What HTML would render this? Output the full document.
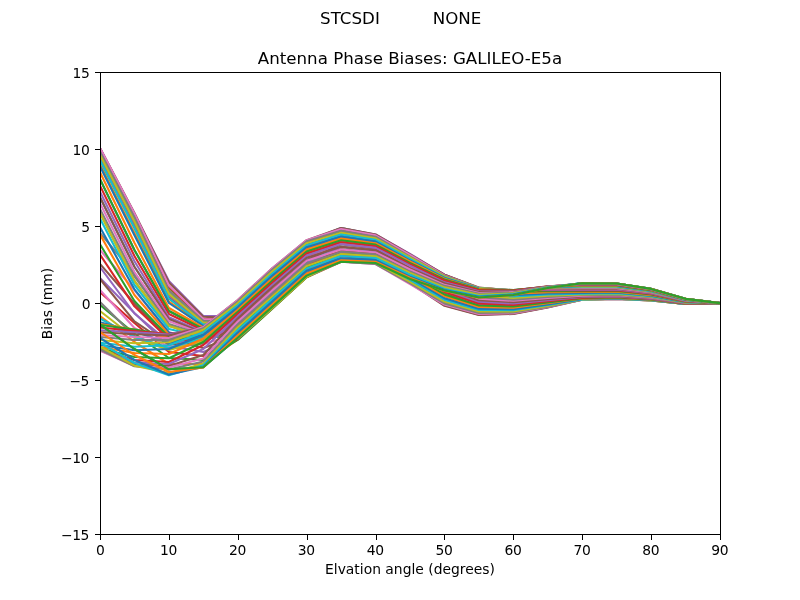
<!DOCTYPE html>
<html lang="en"><head><meta charset="utf-8"><title>Antenna Phase Biases: GALILEO-E5a</title>
<style>html,body{margin:0;padding:0;background:#fff;overflow:hidden}svg{display:block}text{font-family:"DejaVu Sans","Liberation Sans",sans-serif;fill:#000}.t10{font-size:13.889px}.t12{font-size:16.667px}.ln{fill:none;stroke-width:2.0833;stroke-linejoin:round;stroke-linecap:butt}</style></head><body>
<svg width="800" height="600" viewBox="0 0 800 600">
<rect x="0" y="0" width="800" height="600" fill="#ffffff"/>
<defs><clipPath id="ax"><rect x="100" y="72" width="620" height="462"/></clipPath></defs>
<g clip-path="url(#ax)">
<polyline class="ln" stroke="#1f77b4" points="100.00,324.70 134.44,349.00 168.89,369.30 203.33,367.30 237.78,337.67 272.22,306.86 306.67,275.61 341.11,261.73 375.56,262.96 410.00,278.98 444.44,290.53 478.89,297.46 513.33,294.99 547.78,287.91 582.22,283.22 616.67,283.52 651.11,288.89 685.56,298.87 720.00,303.15"/>
<polyline class="ln" stroke="#ff7f0e" points="100.00,316.00 134.44,342.00 168.89,364.00 203.33,364.00 237.78,339.52 272.22,308.64 306.67,277.19 341.11,261.73 375.56,262.99 410.00,278.03 444.44,290.12 478.89,297.36 513.33,294.91 547.78,287.82 582.22,283.33 616.67,283.63 651.11,288.97 685.56,298.90 720.00,303.15"/>
<polyline class="ln" stroke="#2ca02c" points="100.00,305.00 134.44,333.50 168.89,358.00 203.33,360.00 237.78,339.96 272.22,308.85 306.67,277.28 341.11,260.33 375.56,261.83 410.00,277.18 444.44,289.17 478.89,296.91 513.33,294.57 547.78,287.61 582.22,283.35 616.67,283.64 651.11,288.98 685.56,298.91 720.00,303.15"/>
<polyline class="ln" stroke="#d62728" points="100.00,292.00 134.44,323.00 168.89,352.00 203.33,356.00 237.78,338.98 272.22,307.50 306.67,275.88 341.11,258.46 375.56,260.28 410.00,275.57 444.44,288.21 478.89,296.47 513.33,294.27 547.78,287.44 582.22,283.42 616.67,283.71 651.11,289.04 685.56,298.93 720.00,303.15"/>
<polyline class="ln" stroke="#9467bd" points="100.00,278.00 134.44,313.00 168.89,346.00 203.33,352.00 237.78,337.53 272.22,305.62 306.67,273.99 341.11,256.02 375.56,258.25 410.00,273.90 444.44,287.77 478.89,296.42 513.33,294.28 547.78,287.50 582.22,283.51 616.67,283.79 651.11,289.09 685.56,298.96 720.00,303.15"/>
<polyline class="ln" stroke="#8c564b" points="100.00,264.00 134.44,303.50 168.89,339.00 203.33,348.00 237.78,335.48 272.22,303.10 306.67,271.48 341.11,253.95 375.56,256.53 410.00,272.86 444.44,286.70 478.89,295.95 513.33,294.01 547.78,287.40 582.22,283.64 616.67,283.92 651.11,289.19 685.56,299.00 720.00,303.15"/>
<polyline class="ln" stroke="#e377c2" points="100.00,250.00 134.44,290.00 168.89,332.00 203.33,344.00 237.78,333.79 272.22,300.97 306.67,269.36 341.11,251.71 375.56,254.67 410.00,270.98 444.44,286.28 478.89,295.95 513.33,294.10 547.78,287.56 582.22,283.88 616.67,284.14 651.11,289.36 685.56,299.08 720.00,303.15"/>
<polyline class="ln" stroke="#7f7f7f" points="100.00,233.00 134.44,274.00 168.89,325.00 203.33,340.00 237.78,331.91 272.22,298.67 306.67,267.07 341.11,249.43 375.56,252.78 410.00,269.90 444.44,284.92 478.89,295.31 513.33,293.73 547.78,287.46 582.22,284.11 616.67,284.35 651.11,289.52 685.56,299.15 720.00,303.15"/>
<polyline class="ln" stroke="#bcbd22" points="100.00,213.00 134.44,281.00 168.89,326.00 203.33,336.00 237.78,329.97 272.22,296.29 306.67,264.72 341.11,246.84 375.56,250.63 410.00,267.57 444.44,284.37 478.89,295.25 513.33,293.81 547.78,287.67 582.22,284.44 616.67,284.67 651.11,289.75 685.56,299.25 720.00,303.15"/>
<polyline class="ln" stroke="#17becf" points="100.00,197.30 134.44,266.70 168.89,319.00 203.33,333.00 237.78,327.68 272.22,293.56 306.67,262.03 341.11,244.09 375.56,248.34 410.00,266.27 444.44,284.03 478.89,295.33 513.33,294.03 547.78,287.99 582.22,284.74 616.67,284.94 651.11,289.96 685.56,299.35 720.00,303.15"/>
<polyline class="ln" stroke="#1f77b4" points="100.00,179.20 134.44,250.00 168.89,311.00 203.33,329.00 237.78,325.22 272.22,290.63 306.67,259.17 341.11,242.17 375.56,246.76 410.00,265.20 444.44,283.51 478.89,295.31 513.33,294.18 547.78,288.30 582.22,285.15 616.67,285.33 651.11,290.25 685.56,299.48 720.00,303.15"/>
<polyline class="ln" stroke="#ff7f0e" points="100.00,164.41 134.44,232.95 168.89,301.65 203.33,325.55 237.78,323.55 272.22,288.62 306.67,257.18 341.11,240.25 375.56,245.18 410.00,263.91 444.44,283.44 478.89,295.60 513.33,294.58 547.78,288.78 582.22,285.62 616.67,285.77 651.11,290.58 685.56,299.62 720.00,303.15"/>
<polyline class="ln" stroke="#2ca02c" points="100.00,160.00 134.44,227.70 168.89,298.50 203.33,324.50 237.78,321.86 272.22,286.60 306.67,255.19 341.11,238.53 375.56,243.78 410.00,263.16 444.44,282.76 478.89,295.47 513.33,294.68 547.78,289.09 582.22,286.11 616.67,286.23 651.11,290.93 685.56,299.78 720.00,303.15"/>
<polyline class="ln" stroke="#d62728" points="100.00,158.00 134.44,225.22 168.89,296.70 203.33,323.78 237.78,320.34 272.22,284.79 306.67,253.42 341.11,236.67 375.56,242.25 410.00,261.64 444.44,282.26 478.89,295.47 513.33,294.89 547.78,289.49 582.22,286.67 616.67,286.75 651.11,291.32 685.56,299.96 720.00,303.15"/>
<polyline class="ln" stroke="#9467bd" points="100.00,156.50 134.44,223.36 168.89,295.35 203.33,323.24 237.78,318.63 272.22,282.79 306.67,251.47 341.11,234.44 375.56,240.40 410.00,260.34 444.44,282.12 478.89,295.72 513.33,295.30 547.78,290.03 582.22,287.20 616.67,287.25 651.11,291.69 685.56,300.12 720.00,303.15"/>
<polyline class="ln" stroke="#8c564b" points="100.00,155.00 134.44,221.50 168.89,294.00 203.33,322.70 237.78,316.52 272.22,280.36 306.67,249.12 341.11,232.67 375.56,238.96 410.00,259.51 444.44,281.43 478.89,295.57 513.33,295.42 547.78,290.40 582.22,287.77 616.67,287.78 651.11,292.09 685.56,300.30 720.00,303.15"/>
<polyline class="ln" stroke="#e377c2" points="100.00,153.98 134.44,220.21 168.89,292.95 203.33,322.10 237.78,314.84 272.22,278.44 306.67,247.27 341.11,230.75 375.56,237.38 410.00,257.97 444.44,281.51 478.89,295.95 513.33,295.94 547.78,291.04 582.22,288.39 616.67,288.36 651.11,292.53 685.56,300.50 720.00,303.15"/>
<polyline class="ln" stroke="#7f7f7f" points="100.00,152.96 134.44,218.92 168.89,291.90 203.33,321.50 237.78,312.97 272.22,276.33 306.67,245.24 341.11,229.04 375.56,235.97 410.00,257.44 444.44,281.56 478.89,296.30 513.33,296.46 547.78,291.68 582.22,288.97 616.67,288.90 651.11,292.94 685.56,300.68 720.00,303.15"/>
<polyline class="ln" stroke="#bcbd22" points="100.00,151.94 134.44,217.63 168.89,290.85 203.33,320.90 237.78,311.26 272.22,274.43 306.67,243.42 341.11,228.00 375.56,235.14 410.00,256.90 444.44,282.79 478.89,297.46 513.33,297.58 547.78,292.73 582.22,289.63 616.67,289.52 651.11,293.40 685.56,300.89 720.00,303.15"/>
<polyline class="ln" stroke="#17becf" points="100.00,151.60 134.44,217.20 168.89,290.50 203.33,320.70 237.78,310.20 272.22,273.26 306.67,242.32 341.11,228.00 375.56,235.18 410.00,257.90 444.44,283.99 478.89,298.58 513.33,298.68 547.78,293.76 582.22,290.29 616.67,290.13 651.11,293.87 685.56,301.09 720.00,303.15"/>
<polyline class="ln" stroke="#1f77b4" points="100.00,150.52 134.44,216.09 168.89,289.00 203.33,320.19 237.78,310.14 272.22,273.23 306.67,242.30 341.11,229.04 375.56,236.11 410.00,258.88 444.44,285.94 478.89,300.21 513.33,300.15 547.78,295.05 582.22,291.06 616.67,290.86 651.11,294.41 685.56,301.34 720.00,303.15"/>
<polyline class="ln" stroke="#ff7f0e" points="100.00,149.80 134.44,215.35 168.89,288.00 203.33,319.85 237.78,311.09 272.22,274.34 306.67,243.39 341.11,230.75 375.56,237.60 410.00,260.87 444.44,287.30 478.89,301.41 513.33,301.31 547.78,296.12 582.22,291.82 616.67,291.57 651.11,294.95 685.56,301.58 720.00,303.15"/>
<polyline class="ln" stroke="#2ca02c" points="100.00,149.08 134.44,214.61 168.89,287.00 203.33,319.51 237.78,312.68 272.22,276.19 306.67,245.18 341.11,232.67 375.56,239.27 410.00,262.13 444.44,288.99 478.89,302.81 513.33,302.61 547.78,297.28 582.22,292.64 616.67,292.34 651.11,295.52 685.56,301.84 720.00,303.15"/>
<polyline class="ln" stroke="#d62728" points="100.00,148.72 134.44,214.24 168.89,286.50 203.33,319.34 237.78,314.44 272.22,278.25 306.67,247.18 341.11,234.44 375.56,240.81 410.00,263.85 444.44,290.80 478.89,304.28 513.33,303.96 547.78,298.47 582.22,293.39 616.67,293.03 651.11,296.05 685.56,302.07 720.00,303.15"/>
<polyline class="ln" stroke="#9467bd" points="100.00,148.36 134.44,213.87 168.89,281.00 203.33,316.00 237.78,316.01 272.22,280.12 306.67,249.02 341.11,236.67 375.56,242.73 410.00,265.78 444.44,291.96 478.89,305.27 513.33,304.94 547.78,299.41 582.22,294.15 616.67,293.74 651.11,296.58 685.56,302.31 720.00,303.15"/>
<polyline class="ln" stroke="#8c564b" points="100.00,147.89 134.44,212.90 168.89,282.50 203.33,316.80 237.78,318.02 272.22,282.49 306.67,251.34 341.11,238.53 375.56,244.35 410.00,266.91 444.44,293.50 478.89,306.49 513.33,306.08 547.78,300.45 582.22,294.89 616.67,294.43 651.11,297.10 685.56,302.54 720.00,303.15"/>
<polyline class="ln" stroke="#e377c2" points="100.00,148.00 134.44,213.50 168.89,285.50 203.33,319.00 237.78,319.63 272.22,284.44 306.67,253.26 341.11,240.25 375.56,245.82 410.00,268.57 444.44,294.79 478.89,307.52 513.33,307.07 547.78,301.38 582.22,295.54 616.67,295.04 651.11,297.56 685.56,302.75 720.00,303.15"/>
<polyline class="ln" stroke="#7f7f7f" points="100.00,151.60 134.44,217.20 168.89,290.50 203.33,320.70 237.78,321.05 272.22,286.21 306.67,255.02 341.11,242.17 375.56,247.47 410.00,269.97 444.44,296.21 478.89,308.61 513.33,308.10 547.78,302.30 582.22,296.18 616.67,295.65 651.11,298.02 685.56,302.95 720.00,303.15"/>
<polyline class="ln" stroke="#bcbd22" points="100.00,155.00 134.44,221.50 168.89,294.00 203.33,322.70 237.78,322.66 272.22,288.19 306.67,256.99 341.11,244.09 375.56,249.11 410.00,271.58 444.44,298.35 478.89,310.17 513.33,309.46 547.78,303.44 582.22,296.77 616.67,296.19 651.11,298.43 685.56,303.13 720.00,303.15"/>
<polyline class="ln" stroke="#17becf" points="100.00,160.00 134.44,227.70 168.89,298.50 203.33,324.50 237.78,324.24 272.22,290.16 306.67,258.96 341.11,246.84 375.56,251.46 410.00,274.18 444.44,299.46 478.89,310.99 513.33,310.25 547.78,304.18 582.22,297.32 616.67,296.71 651.11,298.82 685.56,303.31 720.00,303.15"/>
<polyline class="ln" stroke="#1f77b4" points="100.00,166.30 134.44,235.20 168.89,303.00 203.33,326.00 237.78,326.63 272.22,293.05 306.67,261.80 341.11,249.43 375.56,253.67 410.00,275.52 444.44,301.12 478.89,312.15 513.33,311.28 547.78,305.06 582.22,297.91 616.67,297.26 651.11,299.23 685.56,303.49 720.00,303.15"/>
<polyline class="ln" stroke="#ff7f0e" points="100.00,172.30 134.44,242.80 168.89,308.00 203.33,327.50 237.78,328.85 272.22,295.75 306.67,264.48 341.11,251.71 375.56,255.61 410.00,277.61 444.44,302.05 478.89,312.78 513.33,311.90 547.78,305.65 582.22,298.34 616.67,297.66 651.11,299.53 685.56,303.63 720.00,303.15"/>
<polyline class="ln" stroke="#2ca02c" points="100.00,179.20 134.44,250.00 168.89,311.00 203.33,329.00 237.78,330.74 272.22,298.10 306.67,266.82 341.11,253.95 375.56,257.50 410.00,278.82 444.44,303.40 478.89,313.68 513.33,312.69 547.78,306.33 582.22,298.77 616.67,298.07 651.11,299.84 685.56,303.76 720.00,303.15"/>
<polyline class="ln" stroke="#d62728" points="100.00,185.60 134.44,256.00 168.89,314.00 203.33,330.50 237.78,332.56 272.22,300.38 306.67,269.10 341.11,256.02 375.56,259.25 410.00,280.63 444.44,304.63 478.89,314.46 513.33,313.38 547.78,306.91 582.22,299.08 616.67,298.36 651.11,300.05 685.56,303.86 720.00,303.15"/>
<polyline class="ln" stroke="#9467bd" points="100.00,191.60 134.44,261.30 168.89,317.30 203.33,332.00 237.78,334.22 272.22,302.49 306.67,271.21 341.11,258.46 375.56,261.30 410.00,282.33 444.44,305.20 478.89,314.75 513.33,313.68 547.78,307.21 582.22,299.38 616.67,298.63 651.11,300.26 685.56,303.96 720.00,303.15"/>
<polyline class="ln" stroke="#8c564b" points="100.00,197.30 134.44,266.70 168.89,319.00 203.33,333.00 237.78,336.23 272.22,304.99 306.67,273.71 341.11,260.33 375.56,262.87 410.00,283.24 444.44,305.77 478.89,315.01 513.33,313.93 547.78,307.47 582.22,299.61 616.67,298.85 651.11,300.42 685.56,304.03 720.00,303.15"/>
<polyline class="ln" stroke="#e377c2" points="100.00,203.30 134.44,272.00 168.89,321.30 203.33,334.00 237.78,337.67 272.22,306.86 306.67,275.61 341.11,261.73 375.56,264.04 410.00,284.21 444.44,304.60 478.89,314.04 513.33,313.24 547.78,307.07 582.22,299.72 616.67,298.95 651.11,300.50 685.56,304.06 720.00,303.15"/>
<polyline class="ln" stroke="#7f7f7f" points="100.00,209.00 134.44,276.50 168.89,324.00 203.33,335.00 237.78,338.63 272.22,308.21 306.67,277.00 341.11,261.73 375.56,264.01 410.00,282.98 444.44,303.44 478.89,313.05 513.33,312.50 547.78,306.62 582.22,299.77 616.67,299.00 651.11,300.54 685.56,304.08 720.00,303.15"/>
<polyline class="ln" stroke="#bcbd22" points="100.00,213.00 134.44,281.00 168.89,326.00 203.33,336.00 237.78,338.20 272.22,308.00 306.67,276.91 341.11,260.33 375.56,262.78 410.00,281.81 444.44,301.62 478.89,311.58 513.33,311.39 547.78,305.89 582.22,299.59 616.67,298.83 651.11,300.41 685.56,304.02 720.00,303.15"/>
<polyline class="ln" stroke="#17becf" points="100.00,218.50 134.44,285.00 168.89,329.00 203.33,337.00 237.78,336.35 272.22,306.22 306.67,275.33 341.11,258.46 375.56,261.16 410.00,279.84 444.44,299.70 478.89,310.01 513.33,310.18 547.78,305.07 582.22,299.36 616.67,298.61 651.11,300.25 685.56,303.95 720.00,303.15"/>
<polyline class="ln" stroke="#1f77b4" points="100.00,227.30 134.44,289.30 168.89,332.70 203.33,338.00 237.78,334.05 272.22,303.94 306.67,273.25 341.11,256.02 375.56,259.05 410.00,277.78 444.44,298.21 478.89,308.73 513.33,309.16 547.78,304.35 582.22,299.01 616.67,298.29 651.11,300.00 685.56,303.84 720.00,303.15"/>
<polyline class="ln" stroke="#ff7f0e" points="100.00,234.60 134.44,295.00 168.89,334.70 203.33,339.00 237.78,331.19 272.22,301.02 306.67,270.57 341.11,253.95 375.56,257.24 410.00,276.33 444.44,296.03 478.89,306.94 513.33,307.74 547.78,303.33 582.22,298.59 616.67,297.90 651.11,299.71 685.56,303.71 720.00,303.15"/>
<polyline class="ln" stroke="#2ca02c" points="100.00,244.30 134.44,301.00 168.89,337.00 203.33,340.00 237.78,328.70 272.22,298.51 306.67,268.28 341.11,251.71 375.56,255.30 410.00,274.01 444.44,294.41 478.89,305.52 513.33,306.58 547.78,302.47 582.22,298.16 616.67,297.50 651.11,299.41 685.56,303.57 720.00,303.15"/>
<polyline class="ln" stroke="#d62728" points="100.00,254.60 134.44,306.30 168.89,339.50 203.33,341.00 237.78,326.08 272.22,295.84 306.67,265.83 341.11,249.43 375.56,253.31 410.00,272.45 444.44,291.79 478.89,303.40 513.33,304.87 547.78,301.21 582.22,297.62 616.67,296.99 651.11,299.02 685.56,303.40 720.00,303.15"/>
<polyline class="ln" stroke="#9467bd" points="100.00,267.00 134.44,313.50 168.89,342.00 203.33,342.00 237.78,323.44 272.22,293.12 306.67,263.33 341.11,246.84 375.56,251.05 410.00,269.64 444.44,289.93 478.89,301.80 513.33,303.52 547.78,300.18 582.22,297.08 616.67,296.48 651.11,298.65 685.56,303.23 720.00,303.15"/>
<polyline class="ln" stroke="#8c564b" points="100.00,279.00 134.44,321.30 168.89,344.50 203.33,343.00 237.78,320.50 272.22,290.07 306.67,260.50 341.11,244.09 375.56,248.66 410.00,267.83 444.44,288.23 478.89,300.29 513.33,302.23 547.78,299.15 582.22,296.40 616.67,295.85 651.11,298.17 685.56,303.02 720.00,303.15"/>
<polyline class="ln" stroke="#e377c2" points="100.00,290.00 134.44,328.00 168.89,347.00 203.33,343.50 237.78,317.43 272.22,286.86 306.67,257.52 341.11,242.17 375.56,246.98 410.00,266.25 444.44,286.34 478.89,298.64 513.33,300.82 547.78,298.03 582.22,295.75 616.67,295.24 651.11,297.71 685.56,302.81 720.00,303.15"/>
<polyline class="ln" stroke="#7f7f7f" points="100.00,302.00 134.44,336.00 168.89,349.00 203.33,343.00 237.78,315.23 272.22,284.59 306.67,255.42 341.11,240.25 375.56,245.29 410.00,264.44 444.44,284.85 478.89,297.27 513.33,299.60 547.78,297.01 582.22,295.08 616.67,294.62 651.11,297.24 685.56,302.60 720.00,303.15"/>
<polyline class="ln" stroke="#bcbd22" points="100.00,311.00 134.44,338.00 168.89,350.00 203.33,341.00 237.78,313.06 272.22,282.33 306.67,253.33 341.11,238.53 375.56,243.78 410.00,263.16 444.44,282.76 478.89,295.47 513.33,298.05 547.78,295.75 582.22,294.36 616.67,293.94 651.11,296.73 685.56,302.38 720.00,303.15"/>
<polyline class="ln" stroke="#17becf" points="100.00,318.50 134.44,337.00 168.89,348.00 203.33,338.00 237.78,311.13 272.22,280.32 306.67,251.46 341.11,236.67 375.56,242.14 410.00,261.11 444.44,280.85 478.89,293.80 513.33,296.58 547.78,294.53 582.22,293.64 616.67,293.27 651.11,296.23 685.56,302.15 720.00,303.15"/>
<polyline class="ln" stroke="#1f77b4" points="100.00,322.20 134.44,331.50 168.89,343.00 203.33,335.00 237.78,309.08 272.22,278.15 306.67,249.44 341.11,234.44 375.56,240.19 410.00,259.29 444.44,279.30 478.89,292.39 513.33,295.30 547.78,293.41 582.22,292.84 616.67,292.52 651.11,295.66 685.56,301.90 720.00,303.15"/>
<polyline class="ln" stroke="#ff7f0e" points="100.00,324.00 134.44,329.50 168.89,338.00 203.33,332.00 237.78,306.70 272.22,275.60 306.67,247.04 341.11,232.67 375.56,238.64 410.00,257.95 444.44,277.23 478.89,290.61 513.33,293.73 547.78,292.09 582.22,292.04 616.67,291.77 651.11,295.10 685.56,301.65 720.00,303.15"/>
<polyline class="ln" stroke="#2ca02c" points="100.00,325.00 134.44,329.50 168.89,335.00 203.33,330.00 237.78,304.83 272.22,273.59 306.67,245.14 341.11,230.75 375.56,236.95 410.00,255.91 444.44,275.95 478.89,289.40 513.33,292.57 547.78,291.04 582.22,291.26 616.67,291.04 651.11,294.55 685.56,301.40 720.00,303.15"/>
<polyline class="ln" stroke="#d62728" points="100.00,327.50 134.44,331.00 168.89,334.00 203.33,328.50 237.78,302.84 272.22,271.42 306.67,243.09 341.11,229.04 375.56,235.45 410.00,254.89 444.44,274.69 478.89,288.21 513.33,291.43 547.78,289.99 582.22,290.41 616.67,290.24 651.11,293.95 685.56,301.13 720.00,303.15"/>
<polyline class="ln" stroke="#9467bd" points="100.00,330.30 134.44,332.30 168.89,334.50 203.33,327.50 237.78,301.10 272.22,269.50 306.67,241.27 341.11,228.00 375.56,234.52 410.00,253.87 444.44,274.66 478.89,287.89 513.33,290.94 547.78,289.35 582.22,289.63 616.67,289.52 651.11,293.40 685.56,300.89 720.00,303.15"/>
<polyline class="ln" stroke="#8c564b" points="100.00,332.30 134.44,334.30 168.89,335.50 203.33,327.00 237.78,300.07 272.22,268.35 306.67,240.17 341.11,228.00 375.56,234.47 410.00,254.43 444.44,274.67 478.89,287.60 513.33,290.47 547.78,288.73 582.22,288.85 616.67,288.79 651.11,292.86 685.56,300.64 720.00,303.15"/>
<polyline class="ln" stroke="#e377c2" points="100.00,335.00 134.44,337.00 168.89,338.00 203.33,327.00 237.78,300.13 272.22,268.38 306.67,240.18 341.11,229.04 375.56,235.31 410.00,255.00 444.44,275.49 478.89,287.90 513.33,290.44 547.78,288.39 582.22,288.20 616.67,288.18 651.11,292.39 685.56,300.44 720.00,303.15"/>
<polyline class="ln" stroke="#7f7f7f" points="100.00,337.00 134.44,340.00 168.89,340.00 203.33,328.30 237.78,301.27 272.22,269.58 306.67,241.30 341.11,230.75 375.56,236.72 410.00,256.59 444.44,275.81 478.89,287.87 513.33,290.17 547.78,287.90 582.22,287.55 616.67,287.57 651.11,291.94 685.56,300.23 720.00,303.15"/>
<polyline class="ln" stroke="#bcbd22" points="100.00,340.00 134.44,343.30 168.89,342.30 203.33,329.70 237.78,303.13 272.22,271.56 306.67,243.15 341.11,232.67 375.56,238.32 410.00,257.50 444.44,276.53 478.89,288.14 513.33,290.13 547.78,287.56 582.22,287.00 616.67,287.06 651.11,291.55 685.56,300.06 720.00,303.15"/>
<polyline class="ln" stroke="#17becf" points="100.00,342.70 134.44,346.70 168.89,345.30 203.33,332.30 237.78,305.23 272.22,273.78 306.67,245.23 341.11,234.44 375.56,239.79 410.00,258.90 444.44,277.49 478.89,288.59 513.33,290.23 547.78,287.31 582.22,286.42 616.67,286.51 651.11,291.14 685.56,299.88 720.00,303.15"/>
<polyline class="ln" stroke="#1f77b4" points="100.00,345.00 134.44,350.30 168.89,349.00 203.33,334.70 237.78,307.21 272.22,275.85 306.67,247.15 341.11,236.67 375.56,241.65 410.00,260.54 444.44,277.89 478.89,288.68 513.33,290.06 547.78,286.91 582.22,285.90 616.67,286.03 651.11,290.78 685.56,299.71 720.00,303.15"/>
<polyline class="ln" stroke="#ff7f0e" points="100.00,347.00 134.44,353.00 168.89,354.00 203.33,338.50 237.78,309.69 272.22,278.45 306.67,249.57 341.11,238.53 375.56,243.22 410.00,261.43 444.44,278.76 478.89,289.13 513.33,290.18 547.78,286.70 582.22,285.43 616.67,285.59 651.11,290.45 685.56,299.56 720.00,303.15"/>
<polyline class="ln" stroke="#2ca02c" points="100.00,348.50 134.44,357.00 168.89,358.30 203.33,342.00 237.78,311.84 272.22,280.67 306.67,251.61 341.11,240.25 375.56,244.65 410.00,262.89 444.44,279.52 478.89,289.52 513.33,290.26 547.78,286.47 582.22,284.93 616.67,285.12 651.11,290.10 685.56,299.41 720.00,303.15"/>
<polyline class="ln" stroke="#d62728" points="100.00,349.50 134.44,360.00 168.89,362.00 203.33,345.00 237.78,313.87 272.22,282.72 306.67,253.50 341.11,242.17 375.56,246.27 410.00,264.13 444.44,280.51 478.89,290.11 513.33,290.50 547.78,286.37 582.22,284.52 616.67,284.74 651.11,289.81 685.56,299.28 720.00,303.15"/>
<polyline class="ln" stroke="#9467bd" points="100.00,350.00 134.44,362.50 168.89,364.00 203.33,349.00 237.78,316.13 272.22,285.02 306.67,255.61 341.11,244.09 375.56,247.89 410.00,265.63 444.44,282.34 478.89,291.31 513.33,291.21 547.78,286.59 582.22,284.13 616.67,284.38 651.11,289.54 685.56,299.16 720.00,303.15"/>
<polyline class="ln" stroke="#8c564b" points="100.00,350.30 134.44,364.50 168.89,366.00 203.33,355.00 237.78,318.41 272.22,287.33 306.67,257.72 341.11,246.84 375.56,250.22 410.00,268.16 444.44,283.27 478.89,291.91 513.33,291.49 547.78,286.55 582.22,283.81 616.67,284.08 651.11,289.31 685.56,299.06 720.00,303.15"/>
<polyline class="ln" stroke="#e377c2" points="100.00,350.50 134.44,366.00 168.89,367.50 203.33,358.50 237.78,321.55 272.22,290.58 306.67,260.73 341.11,249.43 375.56,252.42 410.00,269.47 444.44,284.86 478.89,293.00 513.33,292.16 547.78,286.78 582.22,283.62 616.67,283.90 651.11,289.17 685.56,299.00 720.00,303.15"/>
<polyline class="ln" stroke="#7f7f7f" points="100.00,349.50 134.44,366.30 168.89,369.50 203.33,361.50 237.78,324.55 272.22,293.67 306.67,263.57 341.11,251.71 375.56,254.37 410.00,271.58 444.44,285.86 478.89,293.70 513.33,292.55 547.78,286.86 582.22,283.39 616.67,283.68 651.11,289.01 685.56,298.92 720.00,303.15"/>
<polyline class="ln" stroke="#bcbd22" points="100.00,346.70 134.44,365.70 168.89,373.00 203.33,363.70 237.78,327.26 272.22,296.41 306.67,266.08 341.11,253.95 375.56,256.27 410.00,272.86 444.44,287.39 478.89,294.81 513.33,293.27 547.78,287.17 582.22,283.27 616.67,283.57 651.11,288.93 685.56,298.89 720.00,303.15"/>
<polyline class="ln" stroke="#17becf" points="100.00,342.70 134.44,363.00 168.89,375.20 203.33,365.30 237.78,329.93 272.22,299.10 306.67,268.54 341.11,256.02 375.56,258.05 410.00,274.79 444.44,288.93 478.89,295.96 513.33,294.03 547.78,287.53 582.22,283.15 616.67,283.46 651.11,288.84 685.56,298.85 720.00,303.15"/>
<polyline class="ln" stroke="#1f77b4" points="100.00,338.00 134.44,360.00 168.89,374.60 203.33,367.00 237.78,332.45 272.22,301.63 306.67,270.84 341.11,258.46 375.56,260.14 410.00,276.65 444.44,289.93 478.89,296.75 513.33,294.55 547.78,287.76 582.22,283.13 616.67,283.44 651.11,288.83 685.56,298.84 720.00,303.15"/>
<polyline class="ln" stroke="#ff7f0e" points="100.00,332.00 134.44,355.00 168.89,372.00 203.33,367.50 237.78,335.34 272.22,304.56 306.67,273.53 341.11,260.33 375.56,261.74 410.00,277.77 444.44,291.04 478.89,297.66 513.33,295.18 547.78,288.09 582.22,283.18 616.67,283.48 651.11,288.86 685.56,298.85 720.00,303.15"/>
<polyline class="ln" stroke="#2ca02c" points="100.00,324.70 134.44,349.00 168.89,369.30 203.33,367.30 237.78,337.67 272.22,306.86 306.67,275.61 341.11,261.73 375.56,262.96 410.00,278.98 444.44,290.53 478.89,297.46 513.33,294.99 547.78,287.91 582.22,283.22 616.67,283.52 651.11,288.89 685.56,298.87 720.00,303.15"/>
</g>
<g shape-rendering="crispEdges" fill="#000">
<rect x="100" y="534" width="1" height="6"/>
<rect x="169" y="534" width="1" height="6"/>
<rect x="238" y="534" width="1" height="6"/>
<rect x="307" y="534" width="1" height="6"/>
<rect x="376" y="534" width="1" height="6"/>
<rect x="444" y="534" width="1" height="6"/>
<rect x="513" y="534" width="1" height="6"/>
<rect x="582" y="534" width="1" height="6"/>
<rect x="651" y="534" width="1" height="6"/>
<rect x="720" y="534" width="1" height="6"/>
<rect x="95" y="534" width="6" height="1"/>
<rect x="95" y="457" width="6" height="1"/>
<rect x="95" y="380" width="6" height="1"/>
<rect x="95" y="303" width="6" height="1"/>
<rect x="95" y="226" width="6" height="1"/>
<rect x="95" y="149" width="6" height="1"/>
<rect x="95" y="72" width="6" height="1"/>
<rect x="100" y="72" width="1" height="463"/><rect x="720" y="72" width="1" height="463"/><rect x="100" y="72" width="621" height="1"/><rect x="100" y="534" width="621" height="1"/>
</g>
<text class="t10" x="100.50" y="554.8" text-anchor="middle">0</text>
<text class="t10" x="168.59" y="554.8" text-anchor="middle" letter-spacing="-0.3">10</text>
<text class="t10" x="237.48" y="554.8" text-anchor="middle" letter-spacing="-0.3">20</text>
<text class="t10" x="306.37" y="554.8" text-anchor="middle" letter-spacing="-0.3">30</text>
<text class="t10" x="375.26" y="554.8" text-anchor="middle" letter-spacing="-0.3">40</text>
<text class="t10" x="444.14" y="554.8" text-anchor="middle" letter-spacing="-0.3">50</text>
<text class="t10" x="513.03" y="554.8" text-anchor="middle" letter-spacing="-0.3">60</text>
<text class="t10" x="581.92" y="554.8" text-anchor="middle" letter-spacing="-0.3">70</text>
<text class="t10" x="650.81" y="554.8" text-anchor="middle" letter-spacing="-0.3">80</text>
<text class="t10" x="719.70" y="554.8" text-anchor="middle" letter-spacing="-0.3">90</text>
<text class="t10" x="89.0" y="539.60" text-anchor="end" letter-spacing="-0.45">−15</text>
<text class="t10" x="89.0" y="462.60" text-anchor="end" letter-spacing="-0.45">−10</text>
<text class="t10" x="89.0" y="385.60" text-anchor="end" letter-spacing="-0.45">−5</text>
<text class="t10" x="90.7" y="308.60" text-anchor="end">0</text>
<text class="t10" x="90.0" y="231.60" text-anchor="end">5</text>
<text class="t10" x="89.5" y="154.60" text-anchor="end" letter-spacing="-0.3">10</text>
<text class="t10" x="89.5" y="77.60" text-anchor="end" letter-spacing="-0.3">15</text>
<text class="t10" x="410" y="573.6" text-anchor="middle">Elvation angle (degrees)</text>
<text class="t10" transform="translate(52.3,303.5) rotate(-90)" text-anchor="middle">Bias (mm)</text>
<text class="t12" x="410" y="63.7" text-anchor="middle">Antenna Phase Biases: GALILEO-E5a</text>
<text class="t12" x="400.7" y="23.7" text-anchor="middle" xml:space="preserve" style="white-space:pre">STCSDI          NONE</text>
</svg></body></html>
